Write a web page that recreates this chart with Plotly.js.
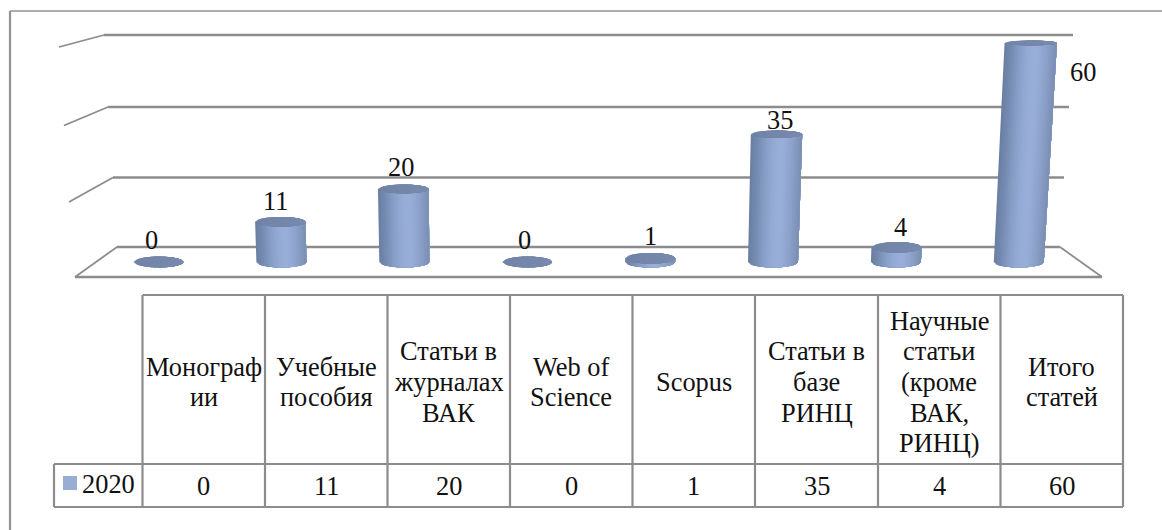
<!DOCTYPE html>
<html>
<head>
<meta charset="utf-8">
<script src="https://cdn.plot.ly/plotly-3.0.1.min.js"></script>
<style>html,body{margin:0;padding:0;background:#fff;overflow:hidden}#c{width:1162px;height:530px}</style>
</head>
<body>
<div id="c"></div>
<script>
// --- data ---
const categories = ["Монограф<br>ии","Учебные<br>пособия","Статьи в<br>журналах<br>ВАК","Web of<br>Science","Scopus","Статьи в<br>базе<br>РИНЦ","Научные<br>статьи<br>(кроме<br>ВАК,<br>РИНЦ)","Итого<br>статей"];
const seriesName = "2020";
const values = [0,11,20,0,1,35,4,60];

// --- geometry & style of the pseudo-3D picture (pixels) ---
const W = 1162, H = 530;
const x0Px = 158.5, xStep = 122.9;   // pixel of category 0, pixels per category
const y0Px = 262, yStep = 3.65;      // pixel of value 0, pixels per value unit
const leanK = 0.00011, leanCentre = 523;
const labelDx = [-7.5,-6,-3.5,-2.5,0.5,7,5,64];
const labelDy = [22,21,22,22,22,14,20,-29];
const strokeCol = "#8c8c8c";
const font = {family:"Liberation Serif, Times New Roman, serif", size:26.4, color:"#111"};
const bands = ["#6c80a4","#7085aa","#7489b0","#798fb6","#7f95bc","#849bc3","#89a0c9","#8da4ce","#91a8d2","#94abd5","#97add8","#98aed8","#98add7","#96abd5","#93a8d1","#8fa4cd","#8ba0c8","#869bc2","#8296bc","#7d91b6"];
const capLeft = [112,131,166], capRight = [120,139,174];

const px2x = p => (p - x0Px) / xStep;
const px2y = p => (y0Px - p) / yStep;
const px = p => p / W, py = p => 1 - p / H;

const traces = [];
// cylinder walls: one trace per shading band, painted left to right
bands.forEach((col, b) => {
  const xs = [], ys = [];
  const u0 = -1 + 2 * b / bands.length;
  values.forEach((v, i) => {
    if (v <= 0) return;
    const baseX = x0Px + i * xStep;
    const hPx = v * yStep;
    const lean = leanK * (baseX - leanCentre) * hPx;
    const rxB = 25, rxT = 25 + v * 0.02, ryB = 5.5;
    xs.push(px2x(baseX + lean + rxT * u0)); ys.push(v);
    xs.push(px2x(baseX + lean + rxT)); ys.push(v);
    for (let s = 0; s <= 16; s++) {
      const u = 1 - (1 - u0) * s / 16;
      xs.push(px2x(baseX + rxB * u));
      ys.push(-ryB * Math.sqrt(Math.max(0, 1 - u * u)) / yStep);
    }
    xs.push(null); ys.push(null);
  });
  traces.push({type:"scatter", mode:"lines", x:xs, y:ys, fill:"toself", fillcolor:col,
    line:{width:0, color:col}, hoverinfo:"skip", showlegend:false});
});
// cylinder caps
const capN = 10;
for (let b = 0; b < capN; b++) {
  const t = b / (capN - 1);
  const col = "rgb(" + capLeft.map((c, j) => Math.round(c + (capRight[j] - c) * t)).join(",") + ")";
  const xs = [], ys = [];
  const u0 = -1 + 2 * b / capN;
  values.forEach((v, i) => {
    const baseX = x0Px + i * xStep;
    const hPx = v * yStep;
    const lean = leanK * (baseX - leanCentre) * hPx;
    const rx = 25 + v * 0.02, ry = 5.5 - v * 0.05;
    for (let s = 0; s <= 14; s++) {
      const u = u0 + (1 - u0) * s / 14;
      xs.push(px2x(baseX + lean + rx * u));
      ys.push(v - ry * Math.sqrt(Math.max(0, 1 - u * u)) / yStep);
    }
    for (let s = 14; s >= 0; s--) {
      const u = u0 + (1 - u0) * s / 14;
      xs.push(px2x(baseX + lean + rx * u));
      ys.push(v + ry * Math.sqrt(Math.max(0, 1 - u * u)) / yStep);
    }
    xs.push(null); ys.push(null);
  });
  traces.push({type:"scatter", mode:"lines", x:xs, y:ys, fill:"toself", fillcolor:col,
    line:{width:0, color:col}, hoverinfo:"skip", showlegend:false});
}

// frame, walls, gridlines, table
const shapes = [];
const seg = (x1,y1,x2,y2,w,c) => shapes.push({type:"line", xref:"paper", yref:"paper", layer:"below",
  x0:px(x1), y0:py(y1), x1:px(x2), y1:py(y2), line:{color:c||strokeCol, width:w||1.5}});
seg(10,11,W,11,1.4,"#929292"); seg(10,11,10,H,2.2,"#929292");
// floor
seg(75,277,1102,277,2.4); seg(117,247,1060,247,2.4); seg(75,277,117,247,1.8); seg(1060,247,1102,277,1.8);
// gridlines with their side-wall stubs
[[69,202,113,177.5,1064],[64,125.5,108,107,1069],[59,47,104,35,1073]].forEach(g => {
  seg(g[0],g[1],g[2],g[3],1.8); seg(g[2],g[3],g[4],g[3],2.4);
});
// table
const colX = [142.5,265,387.5,510,632.5,755,878,1000.5,1123];
const tTop = 295, tMid = 464, tBot = 507, tLeft = 54;
colX.forEach(x => seg(x,tTop,x,tBot,2.2));
seg(colX[0],tTop,colX[8],tTop,2.2);
seg(tLeft,tMid,colX[8],tMid,2.2);
seg(tLeft,tBot,colX[8],tBot,2.2);
seg(tLeft,tMid,tLeft,tBot,2.2);
// legend key
shapes.push({type:"rect", xref:"paper", yref:"paper", layer:"below",
  x0:px(63), x1:px(77), y0:py(476), y1:py(490), fillcolor:"#98add3", line:{width:0}});

const annotations = [];
const txt = (t,xp,yp) => annotations.push({text:t, xref:"paper", yref:"paper", x:px(xp), y:py(yp),
  xanchor:"center", yanchor:"middle", showarrow:false, font:font});
const lineGap = 30.6, headCentre = 382, rowCentre = 486;
categories.forEach((c, i) => {
  const cx = (colX[i] + colX[i+1]) / 2;
  const lines = c.split("<br>");
  lines.forEach((l, k) => txt(l, cx, headCentre + (k - (lines.length - 1) / 2) * lineGap));
  txt(String(values[i]), cx, rowCentre);
});
txt(seriesName, 108.5, 484);
// data labels
values.forEach((v, i) => annotations.push({text:String(v), xref:"x", yref:"y", x:i, y:v,
  xshift:labelDx[i], yshift:labelDy[i], xanchor:"center", yanchor:"middle", showarrow:false, font:font}));

const layout = {
  width:W, height:H, margin:{l:0,r:0,t:0,b:0}, paper_bgcolor:"#fff", plot_bgcolor:"rgba(0,0,0,0)",
  showlegend:false, hovermode:false,
  xaxis:{range:[px2x(0),px2x(W)], visible:false, fixedrange:true},
  yaxis:{range:[px2y(H),px2y(0)], visible:false, fixedrange:true},
  shapes:shapes, annotations:annotations
};
Plotly.newPlot("c", traces, layout, {displayModeBar:false, staticPlot:true});
</script>
</body>
</html>
